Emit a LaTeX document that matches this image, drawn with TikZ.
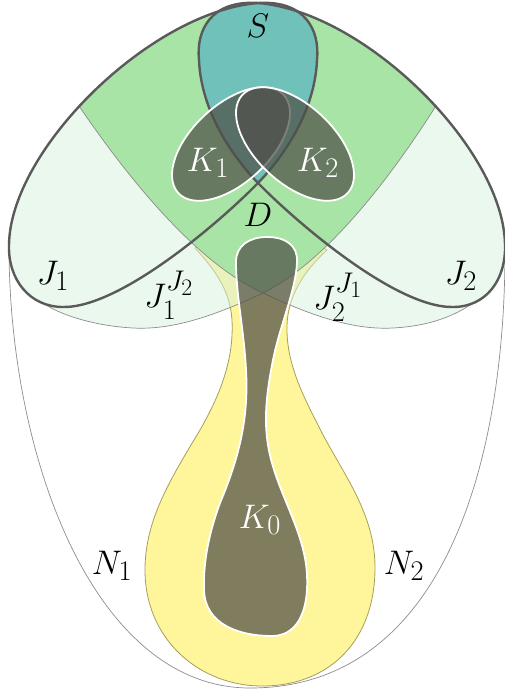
\documentclass[tikz,border=0pt]{standalone}
\usepackage{amsmath}
\usepackage{tikz}

\definecolor{palegreen}{HTML}{D7F1DD}
\definecolor{shieldgreen}{HTML}{A8E4A5}
\definecolor{tealS}{HTML}{70C1B9}
\definecolor{yellowN}{HTML}{FFF59A}
\definecolor{yellowedge}{HTML}{A89E5C}
\definecolor{darkline}{HTML}{5A5A5A}
\definecolor{kgray}{HTML}{505049}

\newcommand\Jonepath{(258,183) .. controls (220,222) and (120,308) .. (63,307)
  .. controls (30,307) and (8,280) .. (9,245)
  .. controls (10,150) and (150,12) .. (258,3)
  .. controls (305,0) and (320,30) .. (317,60)
  .. controls (315,110) and (285,155) .. cycle}
\newcommand\Jtwopath{(258,183) .. controls (296,222) and (396,308) .. (453,307)
  .. controls (486,307) and (506,280) .. (505,245)
  .. controls (504,150) and (366,12) .. (258,3)
  .. controls (211,0) and (196,30) .. (199,60)
  .. controls (201,110) and (231,155) .. cycle}
\newcommand\Ponethin{(435.7,106.3) .. controls (370,210) and (310,270) .. (263,293)
  .. controls (210,318) and (170,330) .. (133,328)
  .. controls (95,326) and (60,315) .. (43,303)}
\newcommand\Ptwothin{(79.2,106.3) .. controls (150,210) and (212,270) .. (263,293)
  .. controls (316,318) and (356,330) .. (393,328)
  .. controls (431,326) and (456,315) .. (473,303)}
\newcommand\Ponepath{\Ponethin
  .. controls (20,290) and (8,270) .. (9,245)
  .. controls (10,150) and (150,12) .. (258,3)
  .. controls (317.4,8) and (385.9,51.9) .. cycle}
\newcommand\Ptwopath{\Ptwothin
  .. controls (496,290) and (506,270) .. (505,245)
  .. controls (504,150) and (366,12) .. (258,3)
  .. controls (198.6,8) and (129.5,51.9) .. cycle}

\begin{document}
\begin{tikzpicture}[
  x=1pt, y=-1pt,
  every node/.style={inner sep=0pt, font=\Huge, scale=1.37},
  thinline/.style={draw=black!45, line width=0.7pt},
  jline/.style={draw=darkline, line width=2.4pt},
  kset/.style={fill=kgray, fill opacity=0.72, draw=white, line width=1.8pt},
  klabel/.style={text=white}
]
\useasboundingbox (0,0) rectangle (504,695);

% yellow neighbourhood
\fill[yellowN, draw=yellowedge, line width=0.8pt]
  (195,248) .. controls (215,270) and (230,290) .. (232,320)
  .. controls (234,360) and (220,395) .. (200,430)
  .. controls (170,480) and (145,520) .. (145,570)
  .. controls (145,640) and (200,686) .. (262,686)
  .. controls (330,686) and (376,640) .. (375,565)
  .. controls (374,510) and (340,470) .. (318,425)
  .. controls (300,390) and (286,360) .. (287,325)
  .. controls (288,295) and (305,270) .. (327,250)
  .. controls (300,232) and (220,232) .. cycle;

\fill[palegreen, opacity=0.5] \Ponepath;
\fill[palegreen, opacity=0.5] \Ptwopath;
\begin{scope}
  \clip \Ponepath;
  \fill[shieldgreen] \Ptwopath;
\end{scope}
\begin{scope}
  \clip \Jonepath;
  \fill[tealS] \Jtwopath;
\end{scope}

\draw[thinline] \Ponethin;
\draw[thinline] \Ptwothin;
\draw[thinline] (9,250) .. controls (10,460) and (95,688) .. (250,688)
  .. controls (440,688) and (505,470) .. (505,250);

\draw[jline] \Jonepath;
\draw[jline] \Jtwopath;

% compact sets
\draw[kset] (267,237) .. controls (285,237) and (298,245) .. (297,262)
  .. controls (296,290) and (280,325) .. (273,360)
  .. controls (266,395) and (264,420) .. (268,445)
  .. controls (275,490) and (305,530) .. (307,575)
  .. controls (309,615) and (295,636) .. (272,636)
  .. controls (240,636) and (205,625) .. (204,590)
  .. controls (203,560) and (210,530) .. (220,503)
  .. controls (238,460) and (249,420) .. (246,370)
  .. controls (244,330) and (236,295) .. (236,262)
  .. controls (236,245) and (250,237) .. cycle;
\draw[kset, rotate around={43:(231,144)}] (231,144) ellipse [x radius=72, y radius=39];
\draw[kset, rotate around={-43:(295,144)}] (295,144) ellipse [x radius=72, y radius=39];

\node (S) at (258,26) {$S$};
\node (D) at (258,215) {$D$};
\node[klabel] (K1) at (208,163) {$K_1$};
\node[klabel] (K2) at (318,163) {$K_2$};
\node[klabel] (K0) at (260,520) {$K_0$};
\node (J1) at (53,276) {$J_1$};
\node (J2) at (461,276) {$J_2$};
\node (J1J2) at (169,295) {$J_1^{J_2}$};
\node (J2J1) at (338,297) {$J_2^{J_1}$};
\node (N1) at (112,566) {$N_1$};
\node (N2) at (404,566) {$N_2$};

\end{tikzpicture}
\end{document}
